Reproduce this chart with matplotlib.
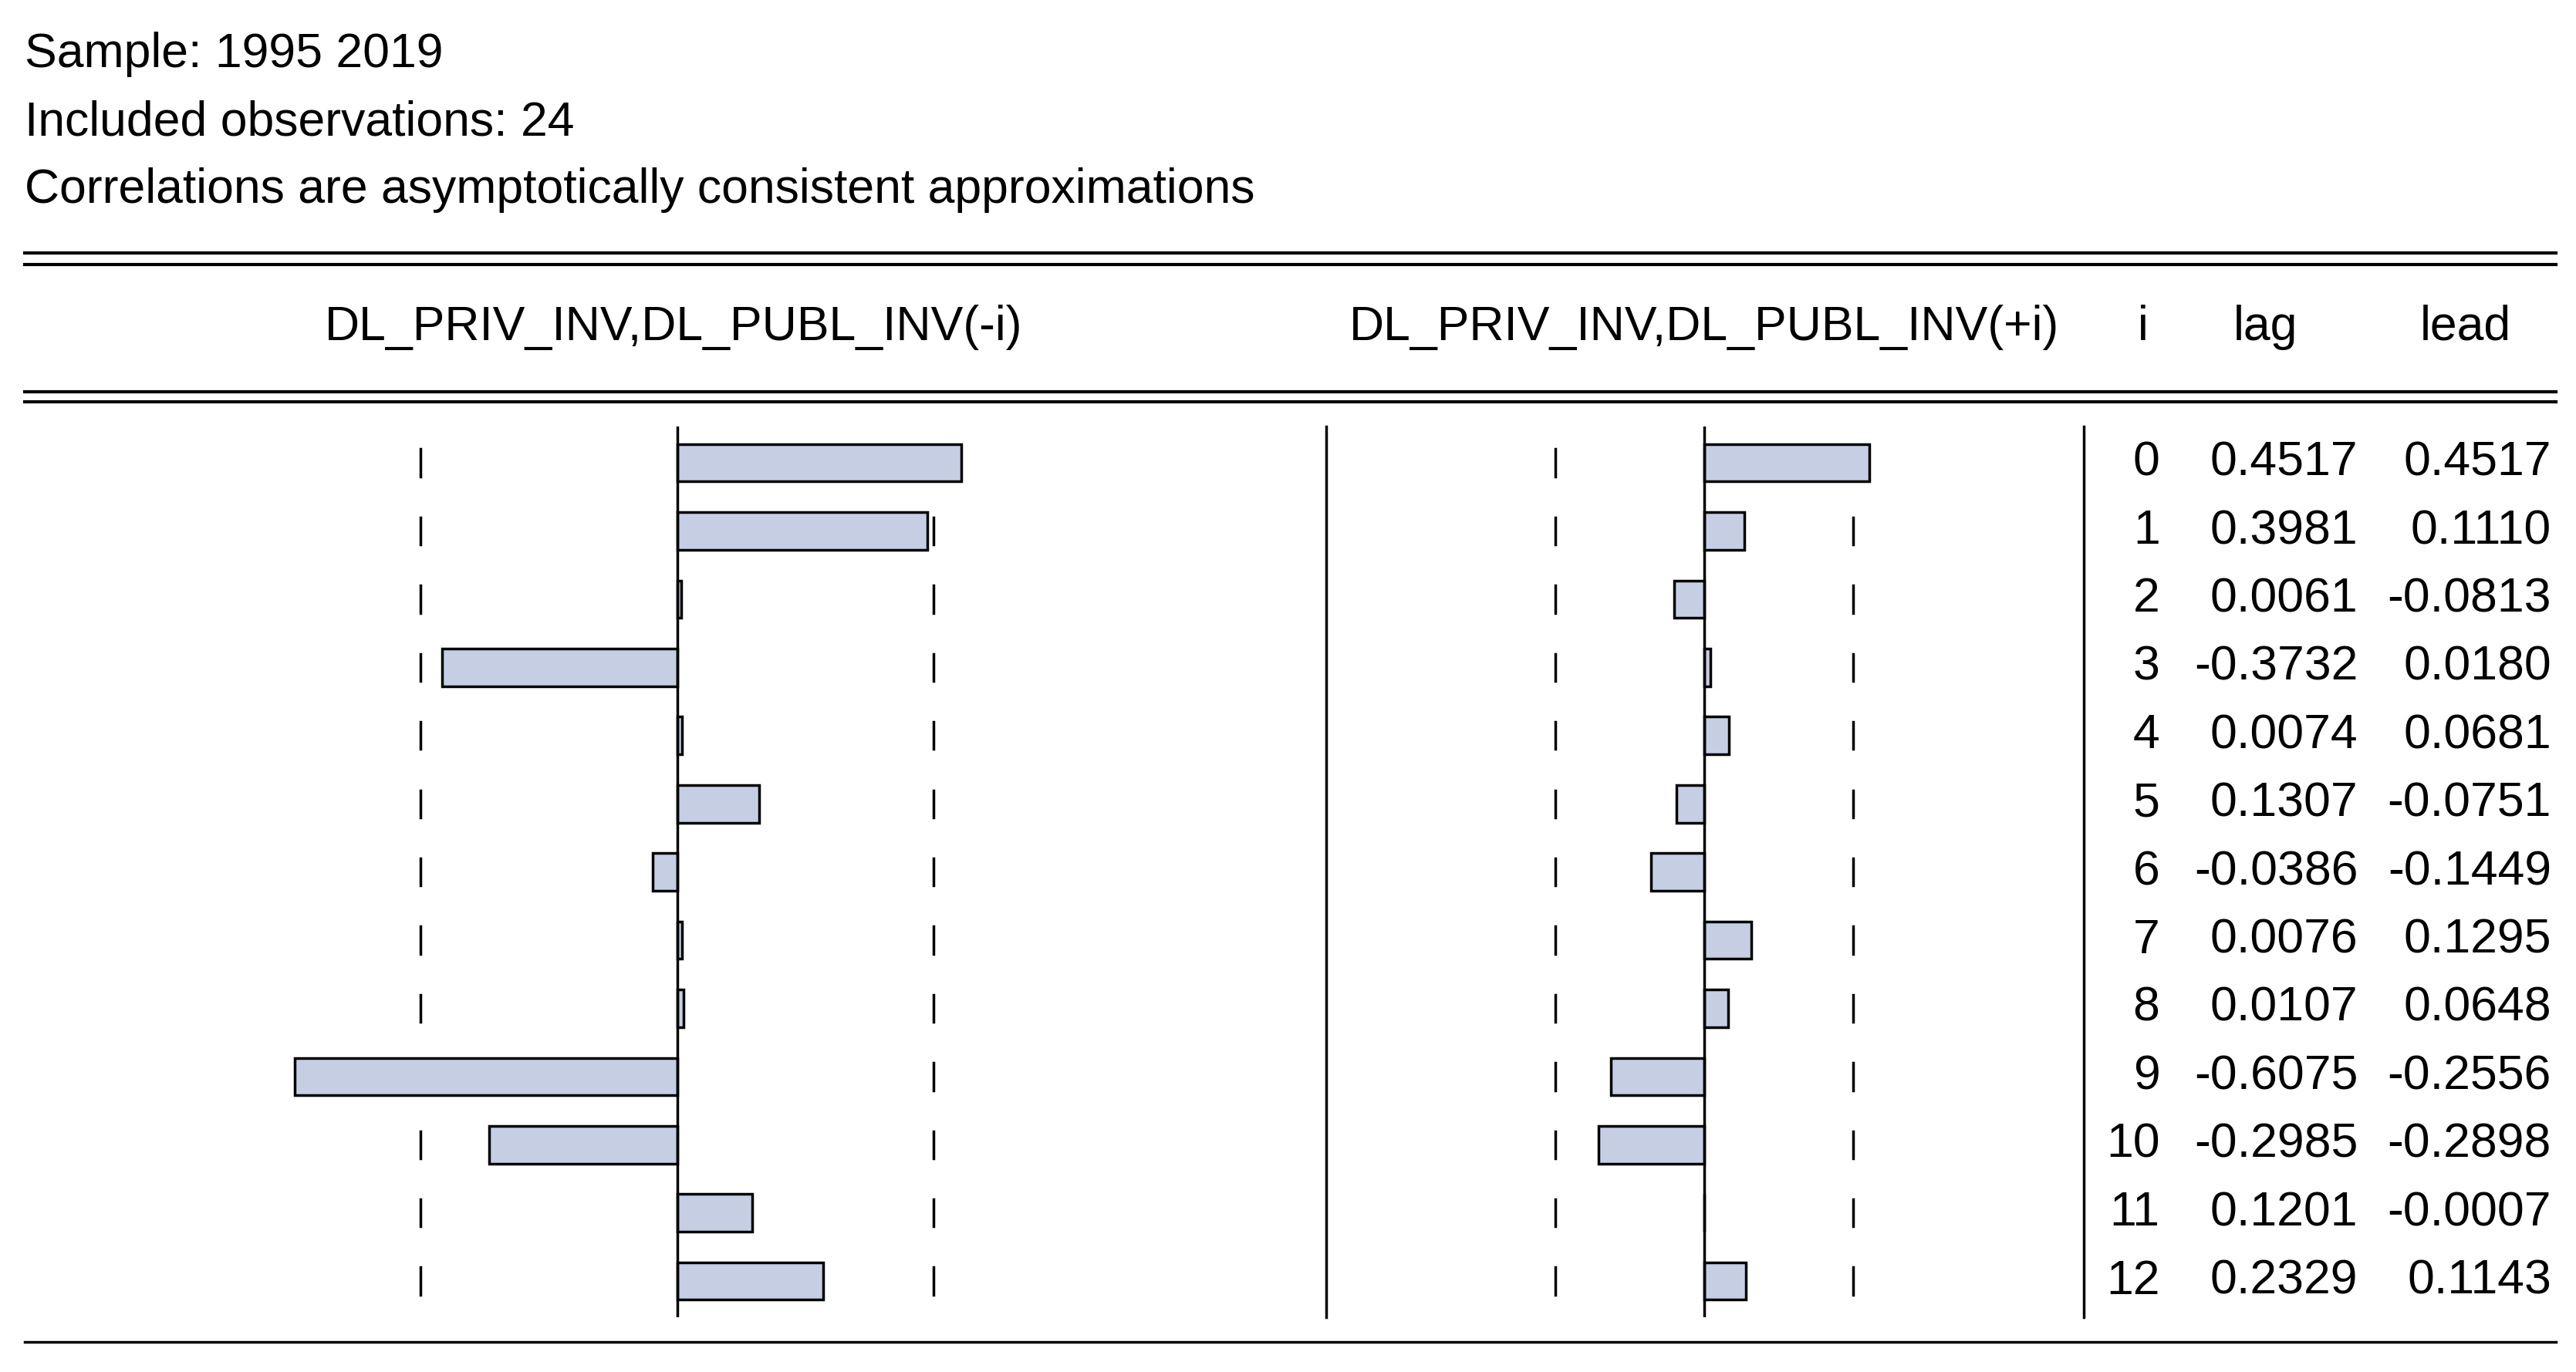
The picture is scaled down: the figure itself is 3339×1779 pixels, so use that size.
import matplotlib.pyplot as plt
import numpy as np

plt.rcParams['font.family'] = ['Liberation Sans', 'DejaVu Sans']

lags = list(range(13))
lag_corr = [0.4517, 0.3981, 0.0061, -0.3732, 0.0074, 0.1307, -0.0386,
            0.0076, 0.0107, -0.6075, -0.2985, 0.1201, 0.2329]
lead_corr = [0.4517, 0.1110, -0.0813, 0.0180, 0.0681, -0.0751, -0.1449,
             0.1295, 0.0648, -0.2556, -0.2898, -0.0007, 0.1143]
n_obs = 24
header_lines = ["Sample: 1995 2019",
                "Included observations: 24",
                "Correlations are asymptotically consistent approximations"]

W, H = 1560.0, 830.0  # layout reference grid
fig = plt.figure(figsize=(33.39, 17.79), dpi=100)
bg = fig.add_axes([0, 0, 1, 1])
bg.set_xlim(0, W)
bg.set_ylim(H, 0)
bg.axis('off')

fs = 45
for k, t in enumerate(header_lines):
    bg.text(15, 33 + 41 * k, t, fontsize=fs, va='center', ha='left')

for y in (153, 160, 237, 243):
    bg.plot([15, 1548], [y, y], color='black', lw=3)
bg.plot([15, 1548], [812, 812], color='black', lw=2.5)

bg.text(408, 198, "DL_PRIV_INV,DL_PUBL_INV(-i)", fontsize=fs, ha='center', va='center')
bg.text(1032, 198, "DL_PRIV_INV,DL_PUBL_INV(+i)", fontsize=fs, ha='center', va='center')
bg.text(1298, 198, "i", fontsize=fs, ha='center', va='center')
bg.text(1372, 198, "lag", fontsize=fs, ha='center', va='center')
bg.text(1493, 198, "lead", fontsize=fs, ha='center', va='center')

bg.plot([803, 803], [258, 797], color='black', lw=2.5)
bg.plot([1262, 1262], [258, 797], color='black', lw=2.5)

row0, dy = 280.0, 41.25
for i in lags:
    y = row0 + dy * i
    bg.text(1308, y, f"{i}", fontsize=fs, ha='right', va='center')
    bg.text(1428, y, f"{lag_corr[i]:.4f}", fontsize=fs, ha='right', va='center')
    bg.text(1545, y, f"{lead_corr[i]:.4f}", fontsize=fs, ha='right', va='center')

bound = 2 / np.sqrt(n_obs)
top_px, bot_px = 258.0, 797.0
ylim = ((bot_px - row0) / dy, (top_px - row0) / dy)


def panel(x0, x1, zero_px, px_per_unit, vals):
    ax = fig.add_axes([x0 / W, 1 - bot_px / H, (x1 - x0) / W, (bot_px - top_px) / H])
    ax.set_xlim((x0 - zero_px) / px_per_unit, (x1 - zero_px) / px_per_unit)
    ax.set_ylim(*ylim)
    ax.axis('off')
    ax.barh(lags, vals, height=0.55, color='#c6cee3', edgecolor='black', lw=2.5, zorder=3)
    ax.axvline(0, color='black', lw=2.5, zorder=4)
    for i in lags:
        for s in (-bound, bound):
            ax.plot([s, s], [i - 0.2, i + 0.2], color='black', lw=2.5, zorder=1)
    return ax


panel(100, 720, 410, 381, lag_corr)
panel(880, 1200, 1032, 221, lead_corr)

fig.savefig('out.png', dpi=100)
